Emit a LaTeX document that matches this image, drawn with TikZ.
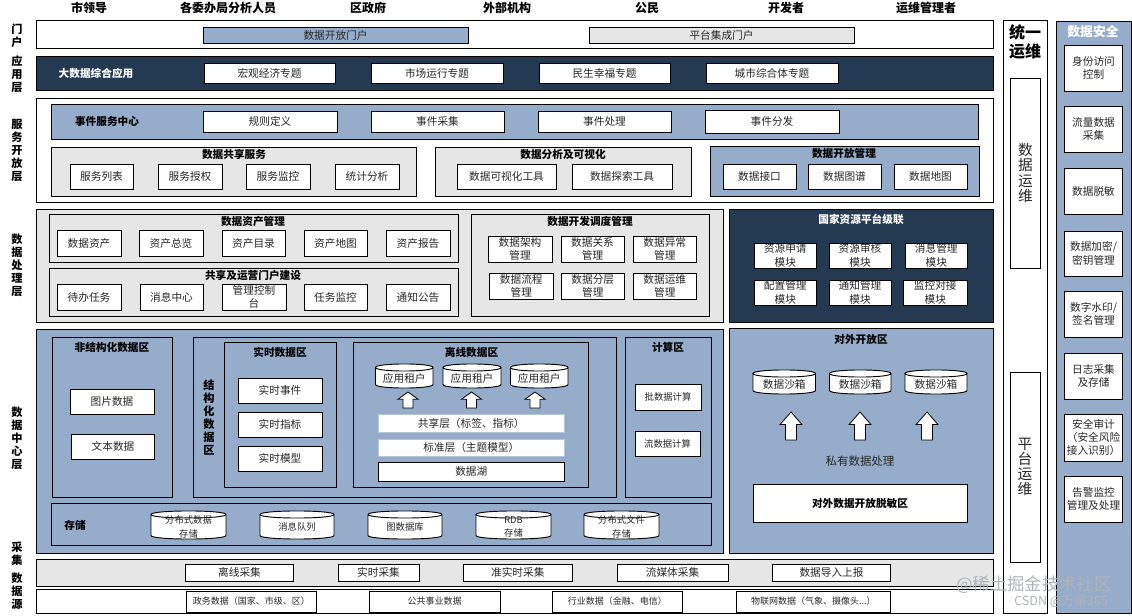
\documentclass[tikz,border=0pt]{standalone}
\usepackage{fontspec}
\setmainfont{Noto Sans CJK SC}
\definecolor{bluefill}{HTML}{95ADCB}
\definecolor{darkfill}{HTML}{243A53}
\definecolor{grayfill}{HTML}{E6E6E6}
\definecolor{marktext}{HTML}{AEB4BC}
\tikzset{
  shell/.style={draw=black,line width=.7pt,inner sep=0pt,outer sep=0pt},
  whitebox/.style={shell,fill=white},
  bluebox/.style={shell,fill=bluefill},
  darkbox/.style={shell,fill=darkfill},
  graybox/.style={shell,fill=grayfill},
  softbox/.style={draw=bluefill!70!white,line width=.6pt,fill=white,inner sep=0pt,outer sep=0pt},
  txt/.style={inner sep=0pt,align=center,text=black!85,font=\fontsize{8}{9.9}\selectfont},
  smalltxt/.style={txt,font=\fontsize{7}{9.9}\selectfont},
  tinytxt/.style={txt,font=\fontsize{6.75}{9}\selectfont},
  ttl/.style={txt,text=black,font=\fontsize{8}{9.9}\selectfont\bfseries},
  ttlw/.style={ttl,text=white},
  toplab/.style={ttl,font=\fontsize{9}{10}\selectfont\bfseries},
  sidelab/.style={ttl,font=\fontsize{8.4}{9.75}\selectfont\bfseries},
  vert/.style={txt,font=\fontsize{11}{11.4}\selectfont},
  cyl/.style={draw=black,line width=.7pt,fill=white},
  blockarrow/.style={draw=black,line width=.6pt,fill=white,line join=miter},
  wmark/.style={inner sep=0pt,text=marktext}
}
% name x1 y1 x2 y2 boxstyle text
\newcommand\bx[8][txt]{%
  \pgfmathsetmacro\bxcx{(#3+#5)/2}\pgfmathsetmacro\bxcy{(#4+#6)/2}%
  \pgfmathsetmacro\bxw{(#5-#3)*.75}\pgfmathsetmacro\bxh{(#6-#4)*.75}%
  \node[#7,minimum width=\bxw pt,minimum height=\bxh pt] (#2) at (\bxcx,\bxcy) {};%
  \node[#1] (#2t) at (#2.center) {#8};}
% name x1 y1 x2 y2 text
\newcommand\cy[7][txt]{%
  \pgfmathsetmacro\cyt{#4+3.5}\pgfmathsetmacro\cyc{#4+8.2}\pgfmathsetmacro\cyu{#4-1.2}%
  \pgfmathsetmacro\cyb{#6-3.5}\pgfmathsetmacro\cyd{#6+1.2}%
  \pgfmathsetmacro\cymx{(#3+#5)/2}\pgfmathsetmacro\cymy{(#4+#6)/2+2}%
  \draw[cyl] (#3,\cyt) .. controls (#3,\cyu) and (#5,\cyu) .. (#5,\cyt) -- (#5,\cyb)
     .. controls (#5,\cyd) and (#3,\cyd) .. (#3,\cyb) -- cycle;%
  \draw[cyl,fill=none] (#3,\cyt) .. controls (#3,\cyc) and (#5,\cyc) .. (#5,\cyt);%
  \node[#1] (#2) at (\cymx,\cymy) {#7};}
% cx y1 y2 w
\newcommand\up[4]{%
  \pgfmathsetmacro\upl{#1-#4/2}\pgfmathsetmacro\upr{#1+#4/2}%
  \pgfmathsetmacro\ups{#1-#4/4}\pgfmathsetmacro\upq{#1+#4/4}%
  \pgfmathsetmacro\uph{#2+(#3-#2)*.45}%
  \draw[blockarrow] (#1,#2) -- (\upr,\uph) -- (\upq,\uph) -- (\upq,#3) -- (\ups,#3) -- (\ups,\uph) -- (\upl,\uph) -- cycle;}
\begin{document}
\begin{tikzpicture}[x=.75pt,y=-.75pt]
\useasboundingbox (0,0) rectangle (1132,616);
% top labels
\node[toplab] (u1) at (89,8) {市领导};
\node[toplab] (u2) at (228,8) {各委办局分析人员};
\node[toplab] (u3) at (368,8) {区政府};
\node[toplab] (u4) at (507,8) {外部机构};
\node[toplab] (u5) at (647,8) {公民};
\node[toplab] (u6) at (786,8) {开发者};
\node[toplab] (u7) at (926,8) {运维管理者};
% side labels
\node[sidelab] (s1) at (17,35.5) {门\\户};
\node[sidelab] (s2) at (17,74) {应\\用\\层};
\node[sidelab] (s3) at (17,150.5) {服\\务\\开\\放\\层};
\node[sidelab] (s4) at (17,265) {数\\据\\处\\理\\层};
\node[sidelab] (s5) at (17,438) {数\\据\\中\\心\\层};
\node[sidelab] (s6) at (17,554) {采\\集};
\node[sidelab] (s7) at (17,591) {数\\据\\源};
% portal
\bx{portal}{36}{20}{993}{48}{whitebox}{}
\bx{pa}{203}{27}{468}{43}{bluebox}{数据开放门户}
\bx{pb}{589}{27}{854}{43}{graybox}{平台集成门户}
% application
\bx{app}{36}{56}{993}{90}{darkbox}{}
\node[ttlw] (appt2) at (96,73) {大数据综合应用};
\bx{a1}{204}{63}{335}{83}{whitebox}{宏观经济专题}
\bx{a2}{371}{63}{503}{83}{whitebox}{市场运行专题}
\bx{a3}{539}{63}{670}{83}{whitebox}{民生幸福专题}
\bx{a4}{706}{63}{838}{83}{whitebox}{城市综合体专题}
% service
\bx{svc}{36}{98}{993}{202}{whitebox}{}
\bx{ev}{51}{104}{978}{139}{bluebox}{}
\node[ttl] (evt2) at (107,121) {事件服务中心};
\bx{e1}{203}{111}{337}{132}{whitebox}{规则定义}
\bx{e2}{371}{111}{504}{132}{whitebox}{事件采集}
\bx{e3}{538}{111}{671}{132}{whitebox}{事件处理}
\bx{e4}{705}{110}{839}{133}{whitebox}{事件分发}
\bx{sh}{51}{147}{416}{196}{graybox}{}
\node[ttl] (sht2) at (234,154) {数据共享服务};
\bx{sh1}{70}{164}{133}{189}{whitebox}{服务列表}
\bx{sh2}{158}{164}{222}{189}{whitebox}{服务授权}
\bx{sh3}{246}{164}{310}{189}{whitebox}{服务监控}
\bx{sh4}{335}{164}{399}{189}{whitebox}{统计分析}
\bx{an}{435}{147}{691}{196}{graybox}{}
\node[ttl] (ant2) at (563,154) {数据分析及可视化};
\bx{an1}{457}{164}{556}{189}{whitebox}{数据可视化工具}
\bx{an2}{572}{164}{672}{189}{whitebox}{数据探索工具}
\bx{op}{710}{146}{979}{196}{bluebox}{}
\node[ttl] (opt2) at (844,153) {数据开放管理};
\bx{op1}{723}{164}{796}{189}{whitebox}{数据接口}
\bx{op2}{808}{164}{881}{189}{whitebox}{数据图谱}
\bx{op3}{894}{164}{967}{189}{whitebox}{数据地图}
% processing
\bx{proc}{36}{209}{723}{322}{graybox}{}
\bx{as}{49}{214}{458}{262}{graybox}{}
\node[ttl] (ast2) at (253,221) {数据资产管理};
\bx{as1}{57}{230}{121}{256}{whitebox}{数据资产}
\bx{as2}{139}{230}{203}{256}{whitebox}{资产总览}
\bx{as3}{222}{230}{285}{256}{whitebox}{资产目录}
\bx{as4}{304}{230}{367}{256}{whitebox}{资产地图}
\bx{as5}{386}{230}{450}{256}{whitebox}{资产报告}
\bx{po}{49}{268}{458}{316}{graybox}{}
\node[ttl] (pot2) at (253,275) {共享及运营门户建设};
\bx{po1}{57}{284}{121}{310}{whitebox}{待办任务}
\bx{po2}{140}{284}{203}{310}{whitebox}{消息中心}
\bx{po3}{222}{284}{286}{310}{whitebox}{管理控制\\台}
\bx{po4}{304}{284}{367}{310}{whitebox}{任务监控}
\bx{po5}{386}{284}{450}{310}{whitebox}{通知公告}
\bx{dv}{471.5}{214}{709}{316}{graybox}{}
\node[ttl] (dvt2) at (590,221) {数据开发调度管理};
\bx{dv1}{488}{236}{552}{262}{whitebox}{数据架构\\管理}
\bx{dv2}{561}{236}{624}{262}{whitebox}{数据关系\\管理}
\bx{dv3}{633.5}{236}{696}{262}{whitebox}{数据异常\\管理}
\bx{dv4}{489.5}{273}{553}{299}{whitebox}{数据流程\\管理}
\bx{dv5}{561}{273}{624.5}{299}{whitebox}{数据分层\\管理}
\bx{dv6}{633.5}{273}{696}{299}{whitebox}{数据运维\\管理}
% national
\bx{na}{729.5}{209}{993}{322}{darkbox}{}
\node[ttlw] (nat2) at (861,219) {国家资源平台级联};
\bx{na1}{754}{243}{816.5}{268}{whitebox}{资源申请\\模块}
\bx{na2}{829}{243}{891}{268}{whitebox}{资源审核\\模块}
\bx{na3}{905}{243}{967.5}{268}{whitebox}{消息管理\\模块}
\bx{na4}{754}{280}{816.5}{305}{whitebox}{配置管理\\模块}
\bx{na5}{829}{280}{891}{305}{whitebox}{通知管理\\模块}
\bx{na6}{903.5}{280}{967}{305}{whitebox}{监控对接\\模块}
% data centre
\bx{dc}{36}{329}{723}{553}{bluebox}{}
\bx{un}{52}{337}{172.5}{497}{bluebox}{}
\node[ttl] (unt2) at (112,347) {非结构化数据区};
\bx{un1}{70}{389}{154}{414}{whitebox}{图片数据}
\bx{un2}{71.5}{434}{154.5}{459}{whitebox}{文本数据}
\bx{st}{193.5}{337}{616}{497}{bluebox}{}
\node[ttl,font=\fontsize{8.4}{9.75}\selectfont\bfseries] (stt2) at (209,418) {结\\构\\化\\数\\据\\区};
\bx{rt}{224.5}{342}{336}{487}{bluebox}{}
\node[ttl] (rtt2) at (280,352) {实时数据区};
\bx{rt1}{238}{378}{322}{403}{whitebox}{实时事件}
\bx{rt2}{238}{412}{322}{437}{whitebox}{实时指标}
\bx{rt3}{238}{446}{322}{471}{whitebox}{实时模型}
\bx{of}{353.5}{342}{588.5}{487}{bluebox}{}
\node[ttl] (oft2) at (471.5,352) {离线数据区};
\cy{c1}{375.5}{364}{433}{388}{应用租户}
\cy{c2}{443}{364}{501}{388}{应用租户}
\cy{c3}{510.5}{364}{568}{388}{应用租户}
\up{408}{392}{408}{20}
\up{471.5}{392}{408}{20}
\up{535}{392}{408}{20}
\bx{l1}{378}{414}{564.5}{432}{softbox}{共享层（标签、指标）}
\bx{l2}{378}{439}{564.5}{456}{softbox}{标准层（主题模型）}
\bx{l3}{378}{462}{564.5}{481}{whitebox}{数据湖}
\bx{cp}{625}{337}{711}{497}{bluebox}{}
\node[ttl] (cpt2) at (668,347) {计算区};
\bx[smalltxt]{cp1}{635}{384}{701}{410}{whitebox}{批数据计算}
\bx[smalltxt]{cp2}{635}{431}{700}{456}{whitebox}{流数据计算}
\bx{sto}{51}{503}{711}{545}{bluebox}{}
\node[ttl] (stot2) at (75,525) {存储};
\cy[smalltxt]{d1}{151}{511}{226}{539}{分布式数据\\存储}
\cy[smalltxt]{d2}{260}{511}{334}{539}{消息队列}
\cy[smalltxt]{d3}{368}{511}{442}{539}{图数据库}
\cy[smalltxt]{d4}{476}{511}{551}{539}{RDB\\存储}
\cy[smalltxt]{d5}{584}{511}{659}{539}{分布式文件\\存储}
% open zone
\bx{oz}{729.5}{328}{993}{553}{bluebox}{}
\node[ttl] (ozt2) at (861,339) {对外开放区};
\cy{o1}{753}{370}{815.5}{394}{数据沙箱}
\cy{o2}{829.5}{370}{891}{394}{数据沙箱}
\cy{o3}{905}{370}{967}{394}{数据沙箱}
\up{791}{412}{440}{22}
\up{860}{412}{440}{22}
\up{927}{412}{440}{22}
\node[txt,font=\fontsize{8.6}{10}\selectfont] (pr) at (860,461) {私有数据处理};
\bx[ttl]{de}{753}{484}{967}{522}{whitebox}{对外数据开放脱敏区}
% collection
\bx{col}{36}{559}{993}{586}{graybox}{}
\bx{col1}{185.5}{564}{293.5}{581}{whitebox}{离线采集}
\bx{col2}{338}{564}{419}{581}{whitebox}{实时采集}
\bx{col3}{463.5}{564}{572}{581}{whitebox}{准实时采集}
\bx{col4}{617}{564}{728}{581}{whitebox}{流媒体采集}
\bx{col5}{772.5}{564}{890.5}{581}{whitebox}{数据导入上报}
% sources
\bx{src}{36}{589}{993}{613}{whitebox}{}
\bx[tinytxt]{src1}{186}{591}{316.5}{612}{whitebox}{政务数据（国家、市级、区）}
\bx[tinytxt]{src2}{369}{591}{500}{612}{whitebox}{公共事业数据}
\bx[tinytxt]{src3}{552}{591}{682.5}{612}{whitebox}{行业数据（金融、电信）}
\bx[tinytxt]{src4}{736}{591}{890.5}{612}{whitebox}{物联网数据（气象、摄像头...）}
% operations
\bx{ops}{1003.5}{20}{1047.5}{613}{whitebox}{}
\node[ttl,font=\fontsize{12}{14.2}\selectfont\bfseries] (opst2) at (1025,42) {统一\\运维};
\bx[vert]{ops1}{1010.5}{78}{1040.5}{268}{whitebox}{数\\据\\运\\维}
\bx[vert]{ops2}{1010.5}{372}{1040.5}{562}{whitebox}{}
\node[vert] (ops2l) at (1025,467) {平\\台\\运\\维};
% security
\bx{sec}{1056}{21}{1131}{613}{bluebox}{}
\node[ttlw,font=\fontsize{9.6}{11}\selectfont\bfseries] (sect2) at (1093,32) {数据安全};
\bx{k1}{1064.5}{45}{1122.5}{91}{whitebox}{身份访问\\控制}
\bx{k2}{1064.5}{106}{1122.5}{152}{whitebox}{流量数据\\采集}
\bx{k3}{1064.5}{168}{1122.5}{214}{whitebox}{数据脱敏}
\bx{k4}{1064.5}{231}{1122.5}{276}{whitebox}{数据加密/\\密钥管理}
\bx{k5}{1064.5}{291}{1122.5}{337}{whitebox}{数字水印/\\签名管理}
\bx{k6}{1064.5}{353}{1122.5}{399}{whitebox}{日志采集\\及存储}
\bx{k7}{1064.5}{414}{1122.5}{461}{whitebox}{安全审计\\（安全风险\\接入识别）}
\bx{k8}{1064.5}{476}{1122.5}{522}{whitebox}{告警监控\\管理及处理}
% watermarks
\node[wmark,font=\fontsize{13}{15}\selectfont] (w1) at (1034,585) {@稀土掘金技术社区};
\node[wmark,font=\fontsize{9.4}{11}\selectfont] (w2) at (1061,601) {CSDN @万案365};
\end{tikzpicture}
\end{document}
